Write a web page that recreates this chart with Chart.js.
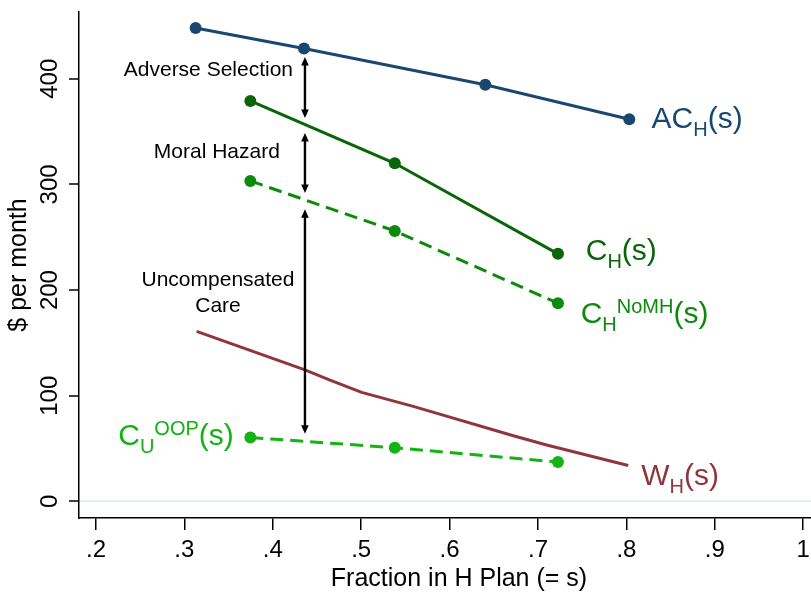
<!DOCTYPE html>
<html lang="en">

<head>
  <meta charset="utf-8">
  <title>Fraction in H Plan</title>
  <style>
    html, body { margin: 0; padding: 0; overflow: hidden; background: #fff; }
    #wrap { width: 850px; height: 592px; }
  </style>
</head>

<body>
  <div id="wrap"><canvas id="myChart" width="850" height="592"></canvas></div>
  <script src="https://cdn.jsdelivr.net/npm/chart.js@4.4.1/dist/chart.umd.min.js"></script>
  <script>
    // values
    var sAC = [0.3127, 0.4353, 0.6404, 0.8033];
    var acH = [448, 428.7, 394.4, 361.7];
    var sC = [0.3746, 0.538, 0.7226];
    var cH = [379, 320, 234.3];
    var cNoMH = [303.3, 256, 187.6];
    var cUoop = [60.5, 50.8, 37.3];
    var sW = [0.3139, 0.4364, 0.4647, 0.4911, 0.5006, 0.5589, 0.6721, 0.7098, 0.8021];
    var wH = [161, 124.5, 114.8, 106.3, 103.2, 89.9, 62.2, 53.4, 34];

    var xTicks = [0.2, 0.3, 0.4, 0.5, 0.6, 0.7, 0.8, 0.9, 1];
    var xTickLabels = ['.2', '.3', '.4', '.5', '.6', '.7', '.8', '.9', '1'];
    var yTicks = [0, 100, 200, 300, 400];

    // arrows between the curves, at one s value: [from, to] in $
    var arrowS = 0.4364;
    var arrowSpans = [[420.6, 362.9], [348.7, 292], [276.5, 64]];

    var notes = [
      { text: 'Adverse Selection', s: 0.4229, v: 402.6, align: 'right' },
      { text: 'Moral Hazard', s: 0.408, v: 324.7, align: 'right' },
      { text: 'Uncompensated', s: 0.338, v: 204, align: 'center' },
      { text: 'Care', s: 0.338, v: 179.7, align: 'center' }
    ];

    var navy = '#1a476f';
    var dkgreen = '#0a640a';
    var green = '#0c8a0c';
    var lime = '#12b312';
    var cranberry = '#8e363c';

    var curveLabels = [
      { parts: [['AC', 0], ['H', 1], ['(s)', 0]], s: 0.8285, v: 353.4, color: navy },
      { parts: [['C', 0], ['H', 1], ['(s)', 0]], s: 0.754, v: 228.6, color: dkgreen },
      { parts: [['C', 0], ['H', 1], ['NoMH', 2], ['(s)', 0]], s: 0.7483, v: 169, color: green },
      { parts: [['C', 0], ['U', 1], ['OOP', 2], ['(s)', 0]], s: 0.2252, v: 53.6, color: lime },
      { parts: [['W', 0], ['H', 1], ['(s)', 0]], s: 0.8167, v: 15.8, color: cranberry }
    ];

    var family = "'Liberation Sans', Arial, sans-serif";

    function pts(xs, ys) {
      return xs.map(function (x, i) { return { x: x, y: ys[i] }; });
    }

    function head(ctx, x, y, dir) {
      ctx.beginPath();
      ctx.moveTo(x, y);
      ctx.lineTo(x - 3.8, y + dir * 8.5);
      ctx.lineTo(x + 3.8, y + dir * 8.5);
      ctx.closePath();
      ctx.fill();
    }

    var notesPlugin = {
      id: 'notes',
      afterDatasetsDraw: function (chart) {
        var ctx = chart.ctx;
        var xs = chart.scales.x, ys = chart.scales.y;
        ctx.save();
        ctx.strokeStyle = '#000';
        ctx.fillStyle = '#000';
        ctx.lineWidth = 2.4;
        var ax = xs.getPixelForValue(arrowS);
        arrowSpans.forEach(function (span) {
          var y1 = ys.getPixelForValue(span[0]);
          var y2 = ys.getPixelForValue(span[1]);
          ctx.beginPath();
          ctx.moveTo(ax, y1 + 6);
          ctx.lineTo(ax, y2 - 6);
          ctx.stroke();
          head(ctx, ax, y1, 1);
          head(ctx, ax, y2, -1);
        });

        ctx.font = '21px ' + family;
        ctx.textBaseline = 'alphabetic';
        notes.forEach(function (n) {
          ctx.textAlign = n.align;
          ctx.fillText(n.text, xs.getPixelForValue(n.s), ys.getPixelForValue(n.v));
        });

        ctx.textAlign = 'left';
        curveLabels.forEach(function (lab) {
          var x = xs.getPixelForValue(lab.s);
          var y = ys.getPixelForValue(lab.v);
          ctx.fillStyle = lab.color;
          lab.parts.forEach(function (p) {
            var dy = 0;
            if (p[1] === 0) {
              ctx.font = '30px ' + family;
            } else {
              ctx.font = '20px ' + family;
              dy = p[1] === 1 ? 8 : -10;
            }
            ctx.fillText(p[0], x, y + dy);
            x += ctx.measureText(p[0]).width;
          });
        });
        ctx.restore();
      }
    };

    var ctx = document.getElementById('myChart').getContext('2d');
    var chart = new Chart(ctx, {
      type: 'scatter',
      data: {
        datasets: [{
          label: 'AC_H(s)',
          data: pts(sAC, acH),
          showLine: true,
          borderColor: navy,
          backgroundColor: navy,
          borderWidth: 3,
          pointRadius: 6,
          pointBorderWidth: 0
        }, {
          label: 'C_H(s)',
          data: pts(sC, cH),
          showLine: true,
          borderColor: dkgreen,
          backgroundColor: dkgreen,
          borderWidth: 3,
          pointRadius: 6,
          pointBorderWidth: 0
        }, {
          label: 'C_H^NoMH(s)',
          data: pts(sC, cNoMH),
          showLine: true,
          borderColor: green,
          backgroundColor: green,
          borderWidth: 3,
          borderDash: [13, 7],
          pointRadius: 6,
          pointBorderWidth: 0
        }, {
          label: 'C_U^OOP(s)',
          data: pts(sC, cUoop),
          showLine: true,
          borderColor: lime,
          backgroundColor: lime,
          borderWidth: 3,
          borderDash: [13, 7],
          pointRadius: 6,
          pointBorderWidth: 0
        }, {
          label: 'W_H(s)',
          data: pts(sW, wH),
          showLine: true,
          borderColor: cranberry,
          backgroundColor: cranberry,
          borderWidth: 3,
          pointRadius: 0
        }]
      },
      options: {
        responsive: false,
        animation: false,
        layout: { padding: { top: 12, right: 11, left: 0, bottom: 0 } },
        plugins: {
          legend: { display: false },
          tooltip: { enabled: false }
        },
        scales: {
          x: {
            type: 'linear',
            min: 0.1808,
            max: 1.0405,
            afterBuildTicks: function (s) { s.ticks = xTicks.map(function (v) { return { value: v }; }); },
            afterFit: function (s) { s.height = 74; },
            ticks: {
              callback: function (v, i) { return xTickLabels[i]; },
              font: { family: family, size: 24 },
              color: '#000',
              padding: 6,
              maxRotation: 0
            },
            grid: { drawOnChartArea: false, tickLength: 12, color: '#000', tickColor: '#000', lineWidth: 1.5 },
            border: { color: '#000', width: 1.5 },
            title: {
              display: true,
              text: 'Fraction in H Plan (= s)',
              font: { family: family, size: 25, lineHeight: 1 },
              color: '#000',
              padding: { top: 0, bottom: 0 }
            }
          },
          y: {
            min: -15.7,
            max: 463.2,
            afterBuildTicks: function (s) { s.ticks = yTicks.map(function (v) { return { value: v }; }); },
            afterFit: function (s) { s.width = 79; },
            ticks: {
              font: { family: family, size: 24, lineHeight: 1 },
              color: '#000',
              padding: -1.5,
              minRotation: 90,
              maxRotation: 90,
              crossAlign: 'center'
            },
            grid: {
              color: function (c) { return c.tick && c.tick.value === 0 ? '#e6eff1' : 'rgba(0,0,0,0)'; },
              lineWidth: 2,
              tickColor: '#000',
              tickLength: 10,
              tickWidth: 1.5
            },
            border: { color: '#000', width: 1.5 },
            title: {
              display: true,
              text: '$ per month',
              font: { family: family, size: 25 },
              color: '#000',
              padding: { top: 4, bottom: 0 }
            }
          }
        }
      },
      plugins: [notesPlugin]
    });
  </script>
</body>

</html>
